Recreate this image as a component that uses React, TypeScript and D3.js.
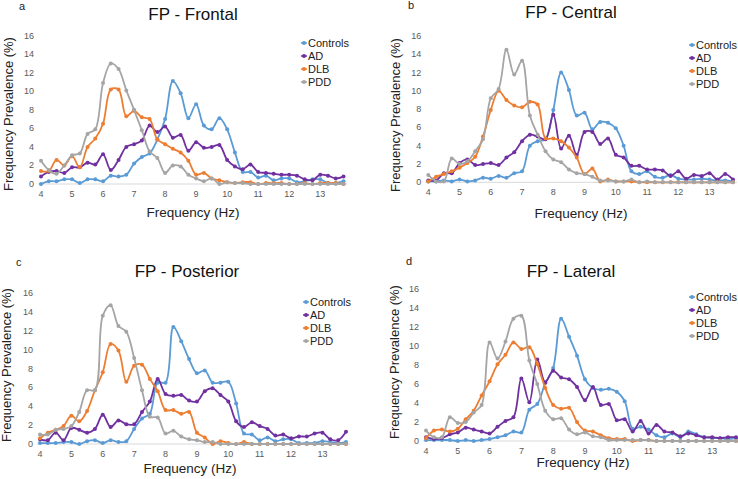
import * as d3 from 'd3';

// frequency bins (Hz)
const freqs = [
  4, 4.25, 4.5, 4.75, 5, 5.25, 5.5, 5.75, 6, 6.25,
  6.5, 6.75, 7, 7.25, 7.5, 7.75, 8, 8.25, 8.5, 8.75,
  9, 9.25, 9.5, 9.75, 10, 10.25, 10.5, 10.75, 11, 11.25,
  11.5, 11.75, 12, 12.25, 12.5, 12.75, 13, 13.25, 13.5, 13.75,
];
const xTicks = [4, 5, 6, 7, 8, 9, 10, 11, 12, 13];
const yTicks = [0, 2, 4, 6, 8, 10, 12, 14, 16];

const seriesNames = ['Controls', 'AD', 'DLB', 'PDD'];
const seriesColors = ['#5b9bd5', '#7030a0', '#ed7d31', '#a5a5a5'];

// a - Frontal
const frontalControls = [0, 0.3, 0.3, 0.5, 0.5, 0.1, 0.5, 0.5, 0.3, 0.9, 0.8, 1.0, 2.2, 2.9, 3.3, 4.8, 7.0, 11.1, 9.8, 7.1, 8.6, 6.3, 5.9, 7.1, 5.9, 3.4, 1.3, 1.3, 0.7, 0.9, 0.4, 0.6, 0.6, 0.2, 0.3, 0.5, 0.5, 0.1, 0.1, 0.3];
const frontalAD = [0.8, 1.3, 1.4, 1.2, 1.8, 1.8, 2.3, 2.1, 3.2, 1.5, 2.6, 4.0, 4.3, 4.7, 6.3, 5.6, 6.2, 5.0, 5.3, 3.6, 4.5, 3.9, 4.0, 4.2, 2.6, 1.9, 1.6, 2.1, 1.3, 1.2, 1.1, 1.0, 1.0, 0.9, 0.5, 0.4, 1.0, 0.9, 0.6, 0.8];
const frontalDLB = [1.4, 1.4, 2.6, 2.0, 3.0, 1.8, 4.0, 4.9, 6.5, 10.2, 10.2, 7.3, 7.9, 7.2, 7.0, 4.8, 4.3, 3.8, 3.4, 2.5, 1.0, 1.2, 0.6, 0.4, 0.2, 0.1, 0.2, 0.2, 0, 0.1, 0.1, 0.1, 0, 0, 0.1, 0, 0.1, 0.1, 0.1, 0];
const frontalPDD = [2.5, 1.5, 1.1, 2.0, 3.1, 3.3, 5.4, 5.9, 10.9, 13.0, 12.4, 10.1, 8.0, 5.8, 3.5, 2.8, 1.2, 2.0, 1.9, 1.0, 0.6, 0.3, 0.6, 0, 0.2, 0.1, 0.1, 0, 0, 0, 0, 0, 0, 0, 0, 0, 0, 0, 0, 0];

// b - Central
const centralControls = [0.1, 0.1, 0.2, 0.1, 0.3, 0.1, 0.2, 0.5, 0.4, 0.7, 0.5, 1.0, 1.2, 4.0, 4.5, 4.7, 7.9, 12.0, 10.1, 7.3, 7.6, 5.8, 6.6, 6.5, 5.9, 4.0, 1.2, 0.9, 1.2, 0.6, 0.5, 0.8, 0.4, 0.3, 0.3, 0.4, 0.3, 0.2, 0.2, 0.1];
const centralAD = [0.2, 0.2, 1.0, 1.0, 2.1, 2.5, 1.9, 2.0, 2.1, 1.9, 2.7, 3.3, 4.5, 5.2, 5.0, 4.7, 7.4, 3.7, 5.1, 3.0, 5.5, 5.5, 4.2, 4.8, 3.0, 2.7, 1.8, 1.8, 1.4, 1.4, 1.3, 0.7, 1.2, 0.4, 0.8, 0.7, 1.0, 0.3, 0.9, 0.3];
const centralDLB = [0.1, 0.6, 0.9, 1.2, 1.6, 2.1, 2.8, 5.0, 7.9, 10.0, 9.0, 8.4, 8.2, 8.8, 8.5, 4.8, 4.8, 4.5, 3.8, 2.7, 0.9, 1.5, 0.1, 0.3, 0.1, 0.1, 0.1, 0, 0, 0, 0, 0, 0, 0, 0, 0, 0, 0, 0, 0];
const centralPDD = [0.8, 0.1, 0.1, 2.6, 2.0, 2.3, 3.4, 4.7, 9.2, 10.2, 14.5, 11.8, 13.3, 7.3, 5.2, 3.4, 2.5, 2.2, 1.4, 1.0, 0.9, 0.6, 0.2, 0.2, 0.1, 0.1, 0.3, 0, 0.1, 0, 0, 0, 0, 0, 0, 0, 0, 0, 0, 0];

// c - Posterior
const posteriorControls = [0.1, 0.1, 0.1, 0.2, 0.2, 0, 0.3, 0.4, 0.1, 0.4, 0.2, 0.3, 1.6, 2.7, 3.2, 6.5, 6.5, 12.4, 10.9, 9.0, 7.5, 7.8, 6.5, 6.5, 6.6, 4.3, 1.1, 1.0, 0.4, 0.7, 0.3, 0.5, 0.5, 0.1, 0.1, 0.1, 0.3, 0.2, 0.1, 0.2];
const posteriorAD = [0.5, 0.4, 1.2, 0.4, 1.7, 1.5, 1.2, 1.6, 3.1, 1.8, 2.5, 2.1, 2.1, 3.4, 4.5, 6.9, 5.3, 5.1, 5.2, 4.6, 4.5, 5.6, 5.9, 5.2, 4.5, 2.4, 1.8, 2.3, 1.9, 1.6, 0.9, 1.0, 0.6, 0.8, 0.8, 1.1, 1.2, 0.5, 0.4, 1.3];
const posteriorDLB = [0.6, 1.2, 1.5, 1.9, 3.0, 2.4, 3.5, 5.7, 7.6, 10.6, 9.9, 6.6, 8.3, 8.4, 6.9, 5.6, 3.6, 3.6, 3.2, 3.4, 1.2, 0.7, 0, 0.3, 0.1, 0, 0.2, 0, 0, 0, 0, 0, 0, 0, 0, 0, 0, 0, 0, 0];
const posteriorPDD = [1.0, 1.0, 1.5, 1.6, 1.9, 3.4, 5.7, 5.7, 13.6, 14.7, 12.5, 11.9, 9.1, 5.7, 2.9, 2.8, 1.1, 1.4, 0.8, 0.5, 0.4, 0.2, 0.2, 0, 0, 0, 0, 0, 0, 0, 0, 0, 0, 0, 0, 0, 0, 0, 0, 0];

// d - Lateral
const lateralControls = [0.1, 0.1, 0.1, 0.1, 0, 0.1, 0, 0.1, 0.2, 0.4, 0.6, 1.0, 0.9, 3.3, 3.9, 6.1, 7.7, 12.9, 11.0, 9.0, 6.5, 5.6, 5.4, 5.5, 5.2, 4.2, 1.3, 1.5, 1.2, 0.6, 0.4, 0.8, 0.4, 1.0, 0.7, 0.4, 0.3, 0.3, 0.2, 0.3];
const lateralAD = [0.4, 0.2, 0.3, 0.7, 0.9, 1.4, 1.2, 1.0, 0.8, 1.5, 2.1, 2.5, 6.6, 4.1, 8.6, 6.2, 7.4, 6.7, 6.5, 5.7, 4.3, 5.7, 3.8, 3.9, 2.2, 2.3, 1.0, 2.1, 0.8, 1.7, 1.0, 0.9, 0.5, 0.8, 0.6, 0.4, 0.4, 0.3, 0.4, 0.4];
const lateralDLB = [0.3, 1.1, 1.2, 1.0, 1.3, 2.3, 3.2, 4.8, 6.3, 8.1, 9.1, 10.4, 9.7, 9.9, 8.1, 5.6, 3.8, 3.4, 3.5, 2.0, 1.1, 1.0, 0.6, 0.3, 0.2, 0.2, 0, 0.1, 0.1, 0, 0, 0, 0, 0, 0, 0, 0, 0, 0, 0];
const lateralPDD = [1.1, 0.4, 0.4, 2.5, 1.9, 2.0, 3.0, 3.8, 10.4, 8.7, 10.5, 12.9, 13.2, 8.5, 6.0, 3.2, 2.3, 2.4, 1.2, 0.7, 0.9, 0.5, 0.4, 0.1, 0.1, 0.1, 0.1, 0.1, 0.1, 0, 0, 0, 0, 0, 0, 0, 0, 0, 0, 0];

const panels = [
  {
    letter: 'a', title: 'FP - Frontal', series: [frontalControls, frontalAD, frontalDLB, frontalPDD],
    left: 41, right: 343.5, bottom: 184, top: 35.7,
    titleX: 193, titleY: 20, letterX: 19, letterY: 10,
    yLabX: 12.5, yLabY: 114, xLabX: 193, xLabY: 217, legX: 304, legY: 43,
  },
  {
    letter: 'b', title: 'FP - Central', series: [centralControls, centralAD, centralDLB, centralPDD],
    left: 428.3, right: 733, bottom: 182.3, top: 36,
    titleX: 571, titleY: 18, letterX: 408, letterY: 9,
    yLabX: 400, yLabY: 115, xLabX: 581, xLabY: 218, legX: 692, legY: 45,
  },
  {
    letter: 'c', title: 'FP - Posterior', series: [posteriorControls, posteriorAD, posteriorDLB, posteriorPDD],
    left: 40, right: 346, bottom: 444, top: 293,
    titleX: 187, titleY: 277, letterX: 16, letterY: 266,
    yLabX: 11, yLabY: 365, xLabX: 190, xLabY: 473, legX: 306, legY: 302,
  },
  {
    letter: 'd', title: 'FP - Lateral', series: [lateralControls, lateralAD, lateralDLB, lateralPDD],
    left: 426, right: 736, bottom: 441, top: 289.3,
    titleX: 571, titleY: 277, letterX: 406, letterY: 265,
    yLabX: 399, yLabY: 362, xLabX: 583, xLabY: 467, legX: 692, legY: 297,
  },
];

const font = '"Liberation Sans", Arial, sans-serif';

function Panel({ p }: { p: typeof panels[number] }) {
  const x = d3.scaleLinear().domain([4, 13.75]).range([p.left, p.right]);
  const y = d3.scaleLinear().domain([0, 16]).range([p.bottom, p.top]);
  const line = d3.line<number>()
    .x((_, i) => x(freqs[i]))
    .y(d => y(d))
    .curve(d3.curveCatmullRom.alpha(0.5));

  return (
    <g fontFamily={font}>
      <text x={p.letterX} y={p.letterY} fontSize={11} fill="#222">{p.letter}</text>
      <text x={p.titleX} y={p.titleY} fontSize={17} textAnchor="middle" fill="#111">{p.title}</text>

      <line x1={p.left - 3} x2={p.right + 4} y1={y(0)} y2={y(0)} stroke="#d9d9d9" strokeWidth={1} />

      {yTicks.map(t => (
        <text key={'y' + t} x={p.left - 7} y={y(t) + 3} fontSize={9} textAnchor="end" fill="#595959">{t}</text>
      ))}
      {xTicks.map(t => (
        <text key={'x' + t} x={x(t)} y={p.bottom + 13} fontSize={9} textAnchor="middle" fill="#595959">{t}</text>
      ))}

      <text
        transform={`translate(${p.yLabX},${p.yLabY}) rotate(-90)`}
        fontSize={13} textAnchor="middle" fill="#222"
      >Frequency Prevalence (%)</text>
      <text x={p.xLabX} y={p.xLabY} fontSize={13.5} textAnchor="middle" fill="#222">Frequency (Hz)</text>

      {p.series.map((vals, si) => (
        <g key={seriesNames[si]}>
          <path d={line(vals) || ''} fill="none" stroke={seriesColors[si]} strokeWidth={1.8} />
          {vals.map((v, i) => (
            <circle key={i} cx={x(freqs[i])} cy={y(v)} r={2} fill={seriesColors[si]} />
          ))}
        </g>
      ))}

      {seriesNames.map((name, si) => {
        const ly = p.legY + si * 13;
        return (
          <g key={'leg' + name}>
            <line x1={p.legX - 3} x2={p.legX + 3} y1={ly} y2={ly} stroke={seriesColors[si]} strokeWidth={1.5} />
            <circle cx={p.legX} cy={ly} r={2} fill={seriesColors[si]} />
            <text x={p.legX + 4} y={ly + 4} fontSize={11} fill="#222">{name}</text>
          </g>
        );
      })}
    </g>
  );
}

export default function App() {
  return (
    <svg width={738} height={479} style={{ position: 'absolute', left: 0, top: 0, background: '#fff' }}>
      <rect width={738} height={479} fill="#fff" />
      {panels.map(p => <Panel key={p.letter} p={p} />)}
    </svg>
  );
}
